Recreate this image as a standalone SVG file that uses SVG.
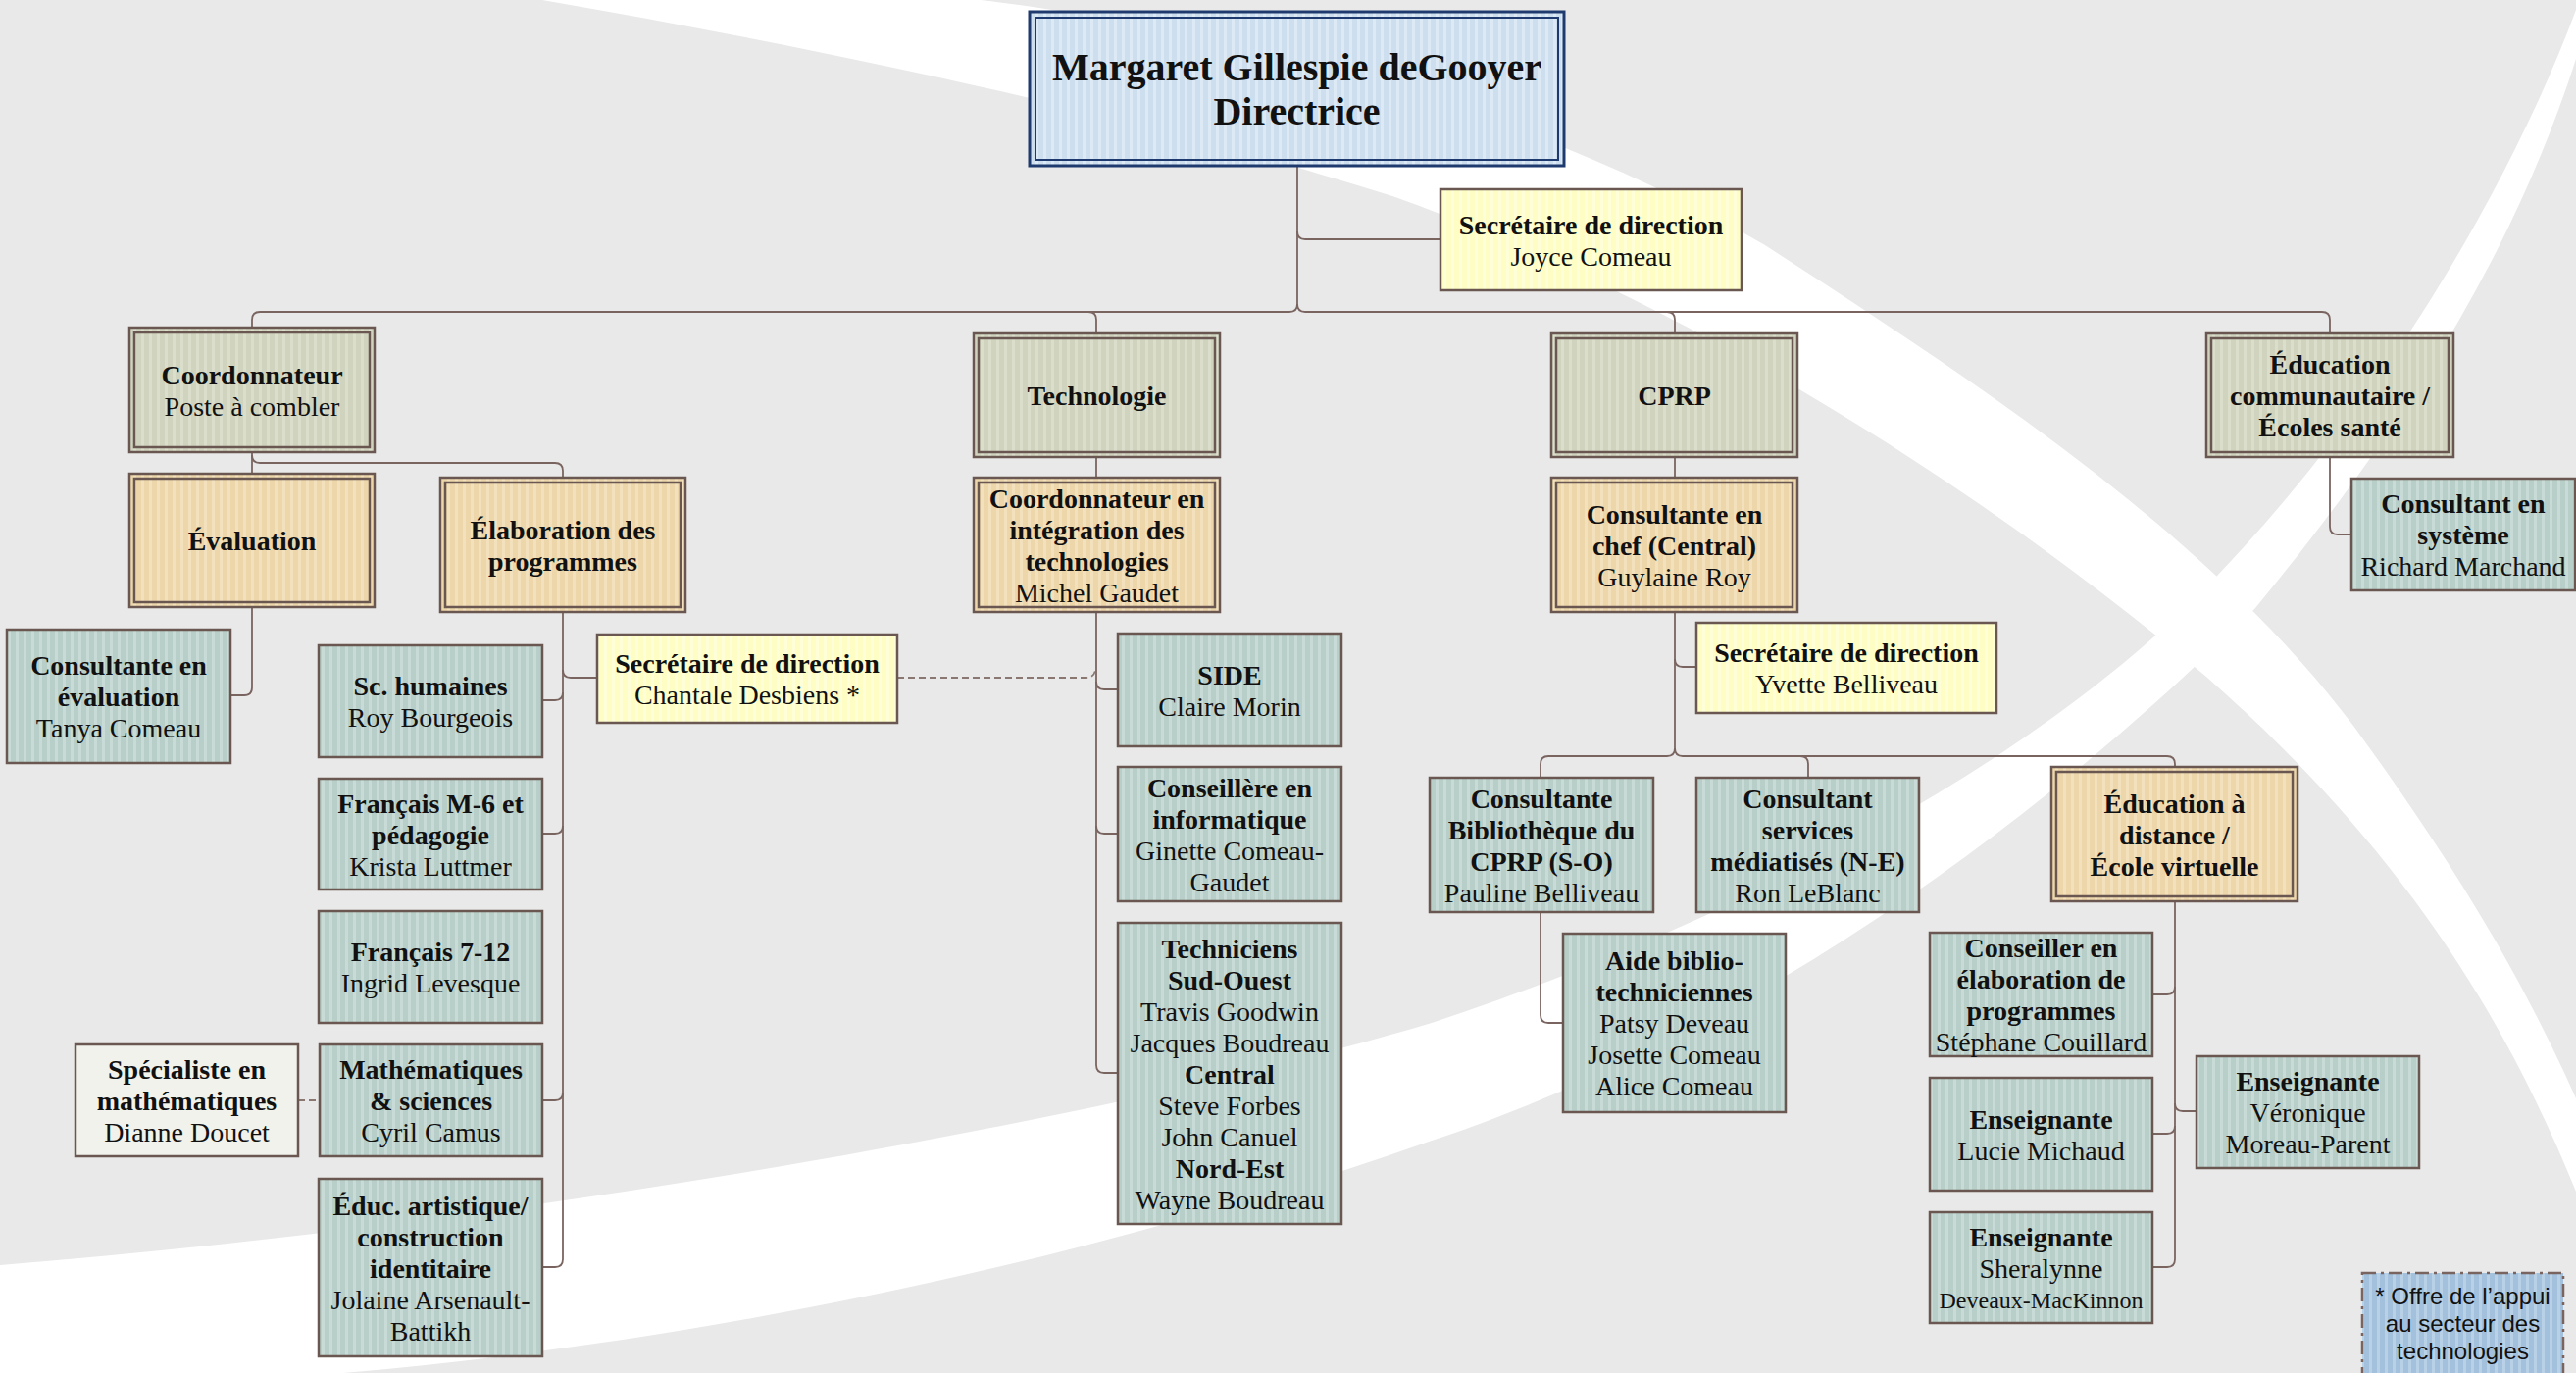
<svg xmlns="http://www.w3.org/2000/svg" width="2627" height="1400" viewBox="0 0 2627 1400">
<defs>
<pattern id="pBlue" width="8" height="10" patternUnits="userSpaceOnUse"><rect width="8" height="10" fill="#cddeee"/><rect width="3" height="10" fill="#dde9f4"/></pattern>
<pattern id="pSage" width="8" height="10" patternUnits="userSpaceOnUse"><rect width="8" height="10" fill="#d0d4bf"/><rect width="3" height="10" fill="#dadecb"/></pattern>
<pattern id="pTan" width="8" height="10" patternUnits="userSpaceOnUse"><rect width="8" height="10" fill="#edd6aa"/><rect width="3" height="10" fill="#f3e1be"/></pattern>
<pattern id="pTeal" width="8" height="10" patternUnits="userSpaceOnUse"><rect width="8" height="10" fill="#b8cfc9"/><rect width="3" height="10" fill="#c8dbd6"/></pattern>
<pattern id="pYel" width="8" height="10" patternUnits="userSpaceOnUse"><rect width="8" height="10" fill="#fdfdc4"/><rect width="3" height="10" fill="#fefed8"/></pattern>
<pattern id="pLeg" width="8" height="10" patternUnits="userSpaceOnUse"><rect width="8" height="10" fill="#a3c1dc"/><rect width="3" height="10" fill="#b9d1e6"/></pattern>
</defs>
<style>
.bx{stroke:#6a5752;stroke-width:2.5}
.in{fill:none;stroke:#6a5752;stroke-width:2.5}
.rt{stroke:#1f3a6e;stroke-width:3}
.rti{fill:none;stroke:#1f3a6e;stroke-width:2}
.t{font-family:"Liberation Serif","Times New Roman",serif;font-size:28px;fill:#111;text-anchor:middle}
.b{font-weight:bold}
.big{font-size:40px;font-weight:bold}
.sm{font-size:24px}
.leg{font-family:"Liberation Sans",Arial,sans-serif;font-size:24px;fill:#111;text-anchor:middle}
.cn{fill:none;stroke:#7a6460;stroke-width:1.8}
.dash{fill:none;stroke:#8a7772;stroke-width:1.8;stroke-dasharray:7 4}
</style>
<g id="background">
<rect width="2627" height="1400" fill="#e9e9e9"/>
<path d="M553,0 C900,60 1200,130 1420,200 C1700,300 2000,480 2250,690 C2420,840 2540,1000 2627,1215 L2627,1120 C2560,970 2480,850 2400,740 C2250,540 2000,380 1800,250 C1560,110 1250,30 1000,0 Z" fill="#ffffff"/>
<path d="M0,1290 C500,1250 1100,1150 1460,1043 C1800,930 2100,760 2262,586 C2430,410 2560,190 2627,10 L2627,60 C2560,270 2440,450 2300,620 C2100,820 1800,1050 1460,1163 C1100,1290 700,1370 350,1400 L0,1400 Z" fill="#ffffff"/>
</g>
<g id="connectors">
<path class="cn" d="M257,334 V326 Q257,318 265,318 H1315 Q1323,318 1323,310 V169"/>
<path class="cn" d="M1323,310 Q1323,318 1331,318 H2368 Q2376,318 2376,326 V340"/>
<path class="cn" d="M1110,318 Q1118,318 1118,326 V340"/>
<path class="cn" d="M1700,318 Q1708,318 1708,326 V340"/>
<path class="cn" d="M1323,236 Q1323,244 1331,244 H1469"/>
<path class="cn" d="M257,461 V483"/>
<path class="cn" d="M257,464 Q257,472 265,472 H566 Q574,472 574,480 V487"/>
<path class="cn" d="M257,619 V701 Q257,709 249,709 H235"/>
<path class="cn" d="M574,624 V1284 Q574,1292 566,1292 H553"/>
<path class="cn" d="M574,706 Q574,714 566,714 H553"/>
<path class="cn" d="M574,683 Q574,691 582,691 H609"/>
<path class="cn" d="M574,842 Q574,850 566,850 H553"/>
<path class="cn" d="M574,1114 Q574,1122 566,1122 H553"/>
<path class="dash" d="M304,1122 H326"/>
<path class="dash" d="M915,691 H1108 Q1116,691 1117,683"/>
<path class="cn" d="M1118,466 V487"/>
<path class="cn" d="M1118,624 V1086 Q1118,1094 1126,1094 H1140"/>
<path class="cn" d="M1118,695 Q1118,703 1126,703 H1140"/>
<path class="cn" d="M1118,842 Q1118,850 1126,850 H1140"/>
<path class="cn" d="M1708,466 V487"/>
<path class="cn" d="M1708,624 V763 Q1708,771 1700,771 H1579 Q1571,771 1571,779 V793"/>
<path class="cn" d="M1708,763 Q1708,771 1716,771 H2210 Q2218,771 2218,779 V782"/>
<path class="cn" d="M1836,771 Q1844,771 1844,779 V793"/>
<path class="cn" d="M1708,672 Q1708,680 1716,680 H1730"/>
<path class="cn" d="M1571,930 V1035 Q1571,1043 1579,1043 H1594"/>
<path class="cn" d="M2218,919 V1284 Q2218,1292 2210,1292 H2195"/>
<path class="cn" d="M2218,1006 Q2218,1014 2210,1014 H2195"/>
<path class="cn" d="M2218,1148 Q2218,1156 2210,1156 H2195"/>
<path class="cn" d="M2218,1125 Q2218,1133 2226,1133 H2240"/>
<path class="cn" d="M2376,466 V537 Q2376,545 2384,545 H2398"/>
</g>
<g id="n-root"><rect class="rt" x="1050" y="12" width="545" height="157" fill="url(#pBlue)"/><rect class="rti" x="1056" y="18" width="533" height="145"/>
<text class="t big" x="1322.5" y="82">Margaret Gillespie deGooyer</text><text class="t big" x="1322.5" y="127">Directrice</text></g>
<g id="n-joyce"><rect class="bx" x="1469" y="193" width="307" height="103" fill="url(#pYel)"/>
<text class="t b" x="1622.5" y="238.5">Secrétaire de direction</text><text class="t" x="1622.5" y="270.5">Joyce Comeau</text></g>
<g id="n-coord"><rect class="bx" x="132" y="334" width="250" height="127" fill="url(#pSage)"/><rect class="in" x="137" y="339" width="240" height="117"/>
<text class="t b" x="257" y="391.5">Coordonnateur</text><text class="t" x="257" y="423.5">Poste à combler</text></g>
<g id="n-techno"><rect class="bx" x="993" y="340" width="251" height="126" fill="url(#pSage)"/><rect class="in" x="998" y="345" width="241" height="116"/>
<text class="t b" x="1118.5" y="413">Technologie</text></g>
<g id="n-cprp"><rect class="bx" x="1582" y="340" width="251" height="126" fill="url(#pSage)"/><rect class="in" x="1587" y="345" width="241" height="116"/>
<text class="t b" x="1707.5" y="413">CPRP</text></g>
<g id="n-educom"><rect class="bx" x="2250" y="340" width="252" height="126" fill="url(#pSage)"/><rect class="in" x="2255" y="345" width="242" height="116"/>
<text class="t b" x="2376" y="381">Éducation</text><text class="t b" x="2376" y="413">communautaire /</text><text class="t b" x="2376" y="445">Écoles santé</text></g>
<g id="n-eval"><rect class="bx" x="132" y="483" width="250" height="136" fill="url(#pTan)"/><rect class="in" x="137" y="488" width="240" height="126"/>
<text class="t b" x="257" y="561">Évaluation</text></g>
<g id="n-elab"><rect class="bx" x="449" y="487" width="250" height="137" fill="url(#pTan)"/><rect class="in" x="454" y="492" width="240" height="127"/>
<text class="t b" x="574" y="549.5">Élaboration des</text><text class="t b" x="574" y="581.5">programmes</text></g>
<g id="n-consulteval"><rect class="bx" x="7" y="642" width="228" height="136" fill="url(#pTeal)"/>
<text class="t b" x="121" y="688">Consultante en</text><text class="t b" x="121" y="720">évaluation</text><text class="t" x="121" y="752">Tanya Comeau</text></g>
<g id="n-schum"><rect class="bx" x="325" y="658" width="228" height="114" fill="url(#pTeal)"/>
<text class="t b" x="439" y="709">Sc. humaines</text><text class="t" x="439" y="741">Roy Bourgeois</text></g>
<g id="n-chantale"><rect class="bx" x="609" y="647" width="306" height="90" fill="url(#pYel)"/>
<text class="t b" x="762" y="686">Secrétaire de direction</text><text class="t" x="762" y="718">Chantale Desbiens *</text></g>
<g id="n-frm6"><rect class="bx" x="325" y="794" width="228" height="113" fill="url(#pTeal)"/>
<text class="t b" x="439" y="828.5">Français M-6 et</text><text class="t b" x="439" y="860.5">pédagogie</text><text class="t" x="439" y="892.5">Krista Luttmer</text></g>
<g id="n-fr712"><rect class="bx" x="325" y="929" width="228" height="114" fill="url(#pTeal)"/>
<text class="t b" x="439" y="980">Français 7-12</text><text class="t" x="439" y="1012">Ingrid Levesque</text></g>
<g id="n-math"><rect class="bx" x="326" y="1065" width="227" height="114" fill="url(#pTeal)"/>
<text class="t b" x="439.5" y="1100">Mathématiques</text><text class="t b" x="439.5" y="1132">&amp; sciences</text><text class="t" x="439.5" y="1164">Cyril Camus</text></g>
<g id="n-specialiste"><rect class="bx" x="77" y="1065" width="227" height="114" fill="#f2f2ec"/>
<text class="t b" x="190.5" y="1100">Spécialiste en</text><text class="t b" x="190.5" y="1132">mathématiques</text><text class="t" x="190.5" y="1164">Dianne Doucet</text></g>
<g id="n-educart"><rect class="bx" x="325" y="1202" width="228" height="181" fill="url(#pTeal)"/>
<text class="t b" x="439" y="1238.5">Éduc. artistique/</text><text class="t b" x="439" y="1270.5">construction</text><text class="t b" x="439" y="1302.5">identitaire</text><text class="t" x="439" y="1334.5">Jolaine Arsenault-</text><text class="t" x="439" y="1366.5">Battikh</text></g>
<g id="n-coordinteg"><rect class="bx" x="993" y="487" width="251" height="137" fill="url(#pTan)"/><rect class="in" x="998" y="492" width="241" height="127"/>
<text class="t b" x="1118.5" y="517.5">Coordonnateur en</text><text class="t b" x="1118.5" y="549.5">intégration des</text><text class="t b" x="1118.5" y="581.5">technologies</text><text class="t" x="1118.5" y="613.5">Michel Gaudet</text></g>
<g id="n-side"><rect class="bx" x="1140" y="646" width="228" height="115" fill="url(#pTeal)"/>
<text class="t b" x="1254" y="697.5">SIDE</text><text class="t" x="1254" y="729.5">Claire Morin</text></g>
<g id="n-conseillere"><rect class="bx" x="1140" y="782" width="228" height="137" fill="url(#pTeal)"/>
<text class="t b" x="1254" y="812.5">Conseillère en</text><text class="t b" x="1254" y="844.5">informatique</text><text class="t" x="1254" y="876.5">Ginette Comeau-</text><text class="t" x="1254" y="908.5">Gaudet</text></g>
<g id="n-techniciens"><rect class="bx" x="1140" y="941" width="228" height="307" fill="url(#pTeal)"/>
<text class="t b" x="1254" y="976.5">Techniciens</text><text class="t b" x="1254" y="1008.5">Sud-Ouest</text><text class="t" x="1254" y="1040.5">Travis Goodwin</text><text class="t" x="1254" y="1072.5">Jacques Boudreau</text><text class="t b" x="1254" y="1104.5">Central</text><text class="t" x="1254" y="1136.5">Steve Forbes</text><text class="t" x="1254" y="1168.5">John Canuel</text><text class="t b" x="1254" y="1200.5">Nord-Est</text><text class="t" x="1254" y="1232.5">Wayne Boudreau</text></g>
<g id="n-consultchef"><rect class="bx" x="1582" y="487" width="251" height="137" fill="url(#pTan)"/><rect class="in" x="1587" y="492" width="241" height="127"/>
<text class="t b" x="1707.5" y="533.5">Consultante en</text><text class="t b" x="1707.5" y="565.5">chef (Central)</text><text class="t" x="1707.5" y="597.5">Guylaine Roy</text></g>
<g id="n-yvette"><rect class="bx" x="1730" y="635" width="306" height="92" fill="url(#pYel)"/>
<text class="t b" x="1883" y="675">Secrétaire de direction</text><text class="t" x="1883" y="707">Yvette Belliveau</text></g>
<g id="n-biblio"><rect class="bx" x="1458" y="793" width="228" height="137" fill="url(#pTeal)"/>
<text class="t b" x="1572" y="823.5">Consultante</text><text class="t b" x="1572" y="855.5">Bibliothèque du</text><text class="t b" x="1572" y="887.5">CPRP (S-O)</text><text class="t" x="1572" y="919.5">Pauline Belliveau</text></g>
<g id="n-services"><rect class="bx" x="1730" y="793" width="227" height="137" fill="url(#pTeal)"/>
<text class="t b" x="1843.5" y="823.5">Consultant</text><text class="t b" x="1843.5" y="855.5">services</text><text class="t b" x="1843.5" y="887.5">médiatisés (N-E)</text><text class="t" x="1843.5" y="919.5">Ron LeBlanc</text></g>
<g id="n-aide"><rect class="bx" x="1594" y="952" width="227" height="182" fill="url(#pTeal)"/>
<text class="t b" x="1707.5" y="989">Aide biblio-</text><text class="t b" x="1707.5" y="1021">techniciennes</text><text class="t" x="1707.5" y="1053">Patsy Deveau</text><text class="t" x="1707.5" y="1085">Josette Comeau</text><text class="t" x="1707.5" y="1117">Alice Comeau</text></g>
<g id="n-edudist"><rect class="bx" x="2092" y="782" width="251" height="137" fill="url(#pTan)"/><rect class="in" x="2097" y="787" width="241" height="127"/>
<text class="t b" x="2217.5" y="828.5">Éducation à</text><text class="t b" x="2217.5" y="860.5">distance /</text><text class="t b" x="2217.5" y="892.5">École virtuelle</text></g>
<g id="n-conseiller"><rect class="bx" x="1968" y="951" width="227" height="126" fill="url(#pTeal)"/>
<text class="t b" x="2081.5" y="976">Conseiller en</text><text class="t b" x="2081.5" y="1008">élaboration de</text><text class="t b" x="2081.5" y="1040">programmes</text><text class="t" x="2081.5" y="1072">Stéphane Couillard</text></g>
<g id="n-lucie"><rect class="bx" x="1968" y="1099" width="227" height="115" fill="url(#pTeal)"/>
<text class="t b" x="2081.5" y="1150.5">Enseignante</text><text class="t" x="2081.5" y="1182.5">Lucie Michaud</text></g>
<g id="n-sheralynne"><rect class="bx" x="1968" y="1236" width="227" height="113" fill="url(#pTeal)"/>
<text class="t b" x="2081.5" y="1270.5">Enseignante</text><text class="t" x="2081.5" y="1302.5">Sheralynne</text><text class="t sm" x="2081.5" y="1333.5">Deveaux-MacKinnon</text></g>
<g id="n-veronique"><rect class="bx" x="2240" y="1077" width="227" height="114" fill="url(#pTeal)"/>
<text class="t b" x="2353.5" y="1112">Enseignante</text><text class="t" x="2353.5" y="1144">Véronique</text><text class="t" x="2353.5" y="1176">Moreau-Parent</text></g>
<g id="n-systeme"><rect class="bx" x="2398" y="488" width="228" height="114" fill="url(#pTeal)"/>
<text class="t b" x="2512" y="523">Consultant en</text><text class="t b" x="2512" y="555">système</text><text class="t" x="2512" y="587">Richard Marchand</text></g>
<g id="n-legend"><rect x="2409" y="1298" width="205" height="120" fill="url(#pLeg)" stroke="#7a6460" stroke-width="2.5" stroke-dasharray="14 5 3 5"/>
<text class="leg" x="2511.5" y="1330">* Offre de l’appui</text><text class="leg" x="2511.5" y="1358">au secteur des</text><text class="leg" x="2511.5" y="1386">technologies</text></g>
</svg>
